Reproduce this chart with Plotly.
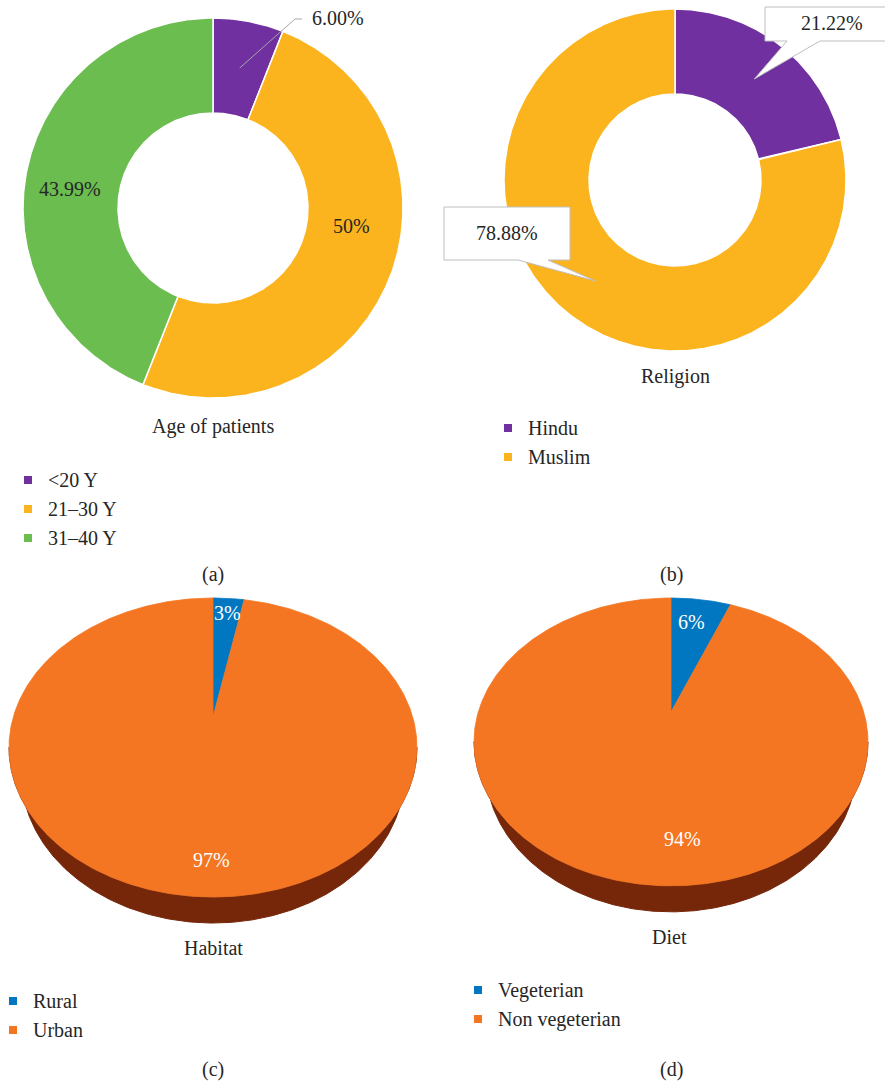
import numpy as np
import plotly.graph_objects as go

# ---------------- data ----------------
age_labels = ["<20 Y", "21–30 Y", "31–40 Y"]
age_values = [6.00, 50, 43.99]
age_text = ["6.00%", "50%", "43.99%"]
age_colors = ["#7030A0", "#FBB41D", "#6BBD4F"]

religion_labels = ["Hindu", "Muslim"]
religion_values = [21.22, 78.88]
religion_text = ["21.22%", "78.88%"]
religion_colors = ["#7030A0", "#FBB41D"]

habitat_labels = ["Rural", "Urban"]
habitat_values = [3, 97]
habitat_text = ["3%", "97%"]
habitat_colors = ["#0077C0", "#F47622"]
habitat_side = ["#003E66", "#76270A"]

diet_labels = ["Vegeterian", "Non vegeterian"]
diet_values = [6, 94]
diet_text = ["6%", "94%"]
diet_colors = ["#0077C0", "#F47622"]
diet_side = ["#003E66", "#76270A"]

W, H = 885, 1081
FONT = "Liberation Serif"
TXT = "#262626"

fig = go.Figure()
annotations = []


def text(x, y, s, size=20, color=TXT, xanchor="center"):
    annotations.append(dict(x=x, y=y, xref="x", yref="y", text=s, showarrow=False,
                            xanchor=xanchor, yanchor="middle",
                            font=dict(family=FONT, size=size, color=color)))


def bounds(values):
    v = np.asarray(values, dtype=float)
    c = np.concatenate([[0], np.cumsum(v)]) / v.sum() * 360.0
    return list(zip(c[:-1], c[1:]))


def polar(cx, cy, r, deg):
    t = np.radians(deg)
    return cx + r * np.sin(t), cy - r * np.cos(t)


def donut(cx, cy, R, r, values, colors):
    for (a0, a1), col in zip(bounds(values), colors):
        t = np.linspace(a0, a1, max(3, int(a1 - a0) * 2 + 2))
        xo, yo = polar(cx, cy, R, t)
        xi, yi = polar(cx, cy, r, t[::-1])
        xs = np.concatenate([xo, xi, xo[:1]])
        ys = np.concatenate([yo, yi, yo[:1]])
        fig.add_trace(go.Scatter(x=xs, y=ys, mode="lines", fill="toself",
                                 fillcolor=col, line=dict(color="white", width=1.5),
                                 hoverinfo="skip", showlegend=False))


def proj(cx, cy, sx, sy, k, deg):
    # tilted disc seen in perspective: the far edge is drawn smaller
    t = np.radians(deg)
    X, Y = np.sin(t), np.cos(t)
    d = 1 + k * Y
    return cx + sx * X / d, cy - sy * Y / d


def pie3d(cx, cy, sx, sy, k, depth, values, colors, side_colors, base_scale=0.94):
    segs = bounds(values)
    f0 = np.degrees(np.arccos(-k))
    f1 = 360 - f0
    # visible side wall (front half); the lower rim is slightly narrower
    for (a0, a1), col in zip(segs, side_colors):
        lo, hi = max(a0, f0), min(a1, f1)
        if hi <= lo:
            continue
        t = np.linspace(lo, hi, int(hi - lo) * 2 + 2)
        xt, yt = proj(cx, cy, sx, sy, k, t)
        xb = cx + (xt - cx) * base_scale
        yb = yt + depth
        xs = np.concatenate([xt, xb[::-1], xt[:1]])
        ys = np.concatenate([yt, yb[::-1], yt[:1]])
        fig.add_trace(go.Scatter(x=xs, y=ys, mode="lines", fill="toself",
                                 fillcolor=col, line=dict(color=col, width=1),
                                 hoverinfo="skip", showlegend=False))
    # top face
    for (a0, a1), col in zip(segs, colors):
        t = np.linspace(a0, a1, max(3, int(a1 - a0) * 2 + 2))
        xt, yt = proj(cx, cy, sx, sy, k, t)
        xs = np.concatenate([[cx], xt, [cx]])
        ys = np.concatenate([[cy], yt, [cy]])
        fig.add_trace(go.Scatter(x=xs, y=ys, mode="lines", fill="toself",
                                 fillcolor=col, line=dict(color=col, width=0.8),
                                 hoverinfo="skip", showlegend=False))


def legend(x, y0, step, labels, colors):
    for i, (lab, col) in enumerate(zip(labels, colors)):
        y = y0 + i * step
        fig.add_trace(go.Scatter(x=[x], y=[y], mode="markers",
                                 marker=dict(symbol="square", size=8, color=col),
                                 hoverinfo="skip", showlegend=False))
        text(x + 18, y, lab, xanchor="left")


def callout(box, base, tip):
    (x0, y0, x1, y1), (b0, b1) = box, base
    xs = [x0, x1, x1, b1, tip[0], b0, x0, x0]
    ys = [y0, y0, y1, y1, tip[1], y1, y1, y0]
    fig.add_trace(go.Scatter(x=xs, y=ys, mode="lines", fill="toself",
                             fillcolor="white", line=dict(color="#BFBFBF", width=1),
                             hoverinfo="skip", showlegend=False))


# ---------------- (a) Age of patients ----------------
acx, acy, aR, ar = 213, 208, 190, 95
donut(acx, acy, aR, ar, age_values, age_colors)
a0, a1 = bounds(age_values)[0]
lx, ly = polar(acx, acy, (aR + ar) / 2, (a0 + a1) / 2)
fig.add_trace(go.Scatter(x=[lx, 295, 302], y=[ly, 19, 19], mode="lines",
                         line=dict(color="#A6A6A6", width=1),
                         hoverinfo="skip", showlegend=False))
text(338, 18, age_text[0])
text(351, 226, age_text[1])
text(70, 189, age_text[2])
text(213, 426, "Age of patients")
legend(28, 480, 29, age_labels, age_colors)
text(213, 574, "(a)")

# ---------------- (b) Religion ----------------
bcx, bcy, bR, br = 675, 180, 171, 86
donut(bcx, bcy, bR, br, religion_values, religion_colors)
rseg = bounds(religion_values)
tips = [polar(bcx, bcy, (bR + br) / 2, (s0 + s1) / 2) for s0, s1 in rseg]
callout((765, 7, 887, 41), (787, 820), tips[0])
callout((444, 207, 570, 260), (518, 548), tips[1])
text(832, 23, religion_text[0])
text(507, 233, religion_text[1])
text(675, 376, "Religion")
legend(508, 428, 29, religion_labels, religion_colors)
text(671, 574, "(b)")

# ---------------- (c) Habitat ----------------
pie3d(213, 717, 199.7, 143.3, 0.204, 26, habitat_values, habitat_colors, habitat_side)
text(227, 613, habitat_text[0], color="white")
text(211, 860, habitat_text[1], color="white")
text(213, 948, "Habitat")
legend(13, 1001, 29, habitat_labels, habitat_colors)
text(213, 1069, "(c)")

# ---------------- (d) Diet ----------------
pie3d(671, 712, 192.7, 137.7, 0.208, 26, diet_values, diet_colors, diet_side)
text(691, 622, diet_text[0], color="white")
text(682, 839, diet_text[1], color="white")
text(669, 937, "Diet")
legend(478, 990, 29, diet_labels, diet_colors)
text(671, 1069, "(d)")

fig.update_layout(
    width=W, height=H,
    margin=dict(l=0, r=0, t=0, b=0),
    paper_bgcolor="white", plot_bgcolor="white",
    xaxis=dict(range=[0, W], visible=False, fixedrange=True),
    yaxis=dict(range=[H, 0], visible=False, fixedrange=True),
    annotations=annotations,
    showlegend=False,
)

fig.write_html("out.html")
